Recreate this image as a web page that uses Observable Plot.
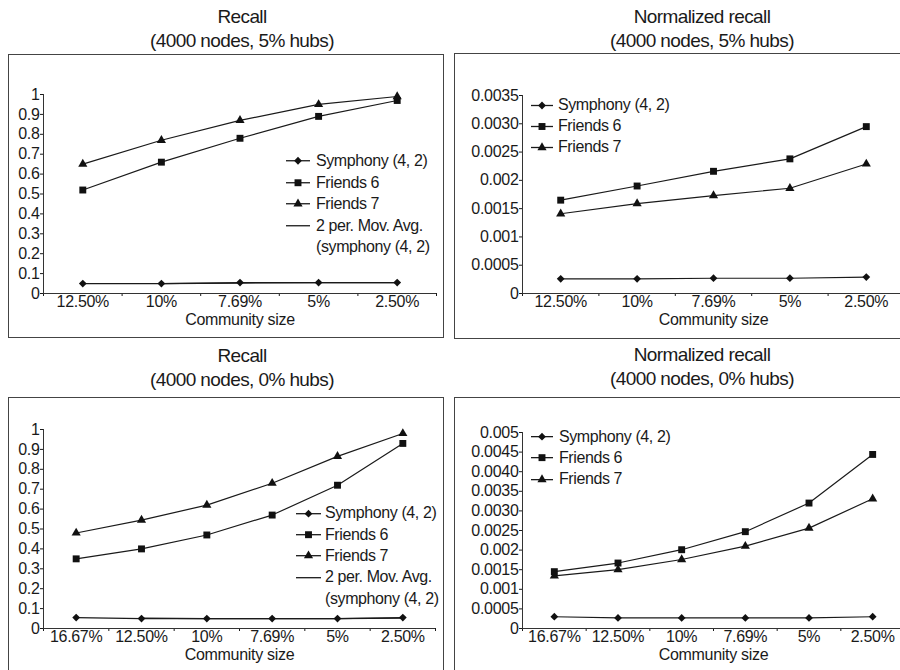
<!DOCTYPE html>
<html><head><meta charset="utf-8">
<script src="https://cdn.jsdelivr.net/npm/d3@7"></script>
<script src="https://cdn.jsdelivr.net/npm/@observablehq/plot@0.6"></script>
<style>
body{margin:0;background:#fff;}
#root{position:relative;width:900px;height:670px;overflow:hidden;font-family:"Liberation Sans",Arial,sans-serif;color:#1a1a1a;background:#fff;}
.title{position:absolute;width:400px;text-align:center;font-size:19px;line-height:24px;letter-spacing:-0.6px;}
.box{position:absolute;border:1px solid #444;box-sizing:border-box;background:#fff;}
.box .plotwrap{position:absolute;left:0;top:0;}
.legend{position:absolute;font-size:16px;letter-spacing:-0.4px;}
.legend .row{display:flex;align-items:center;white-space:nowrap;}
.legend svg{flex:none;}
</style>
</head><body><div id="root"></div>
<script>
// ---- data ----
const cats5 = ["12.50%", "10%", "7.69%", "5%", "2.50%"];
const cats6 = ["16.67%", "12.50%", "10%", "7.69%", "5%", "2.50%"];

const recall5Symphony = [0.05, 0.05, 0.055, 0.055, 0.055];
const recall5Friends6 = [0.52, 0.66, 0.78, 0.89, 0.97];
const recall5Friends7 = [0.65, 0.77, 0.87, 0.95, 0.99];
const recall5MovAvg   = [null, 0.05, 0.0525, 0.055, 0.055];

const norm5Symphony = [0.00026, 0.00026, 0.00027, 0.00027, 0.00029];
const norm5Friends6 = [0.00165, 0.0019, 0.00216, 0.00238, 0.00295];
const norm5Friends7 = [0.00141, 0.00159, 0.00173, 0.00186, 0.00229];

const recall0Symphony = [0.055, 0.05, 0.05, 0.05, 0.05, 0.055];
const recall0Friends6 = [0.35, 0.40, 0.47, 0.57, 0.72, 0.93];
const recall0Friends7 = [0.48, 0.545, 0.62, 0.73, 0.865, 0.98];
const recall0MovAvg   = [null, 0.0525, 0.05, 0.05, 0.05, 0.0525];

const norm0Symphony = [0.0003, 0.00027, 0.00027, 0.00027, 0.00027, 0.0003];
const norm0Friends6 = [0.00145, 0.00167, 0.00201, 0.00247, 0.0032, 0.00444];
const norm0Friends7 = [0.00134, 0.0015, 0.00176, 0.0021, 0.00256, 0.00331];

const recallTicks  = [0, 0.1, 0.2, 0.3, 0.4, 0.5, 0.6, 0.7, 0.8, 0.9, 1];
const recallLabels = ["0", "0.1", "0.2", "0.3", "0.4", "0.5", "0.6", "0.7", "0.8", "0.9", "1"];
const norm5Ticks  = [0, 0.0005, 0.001, 0.0015, 0.002, 0.0025, 0.003, 0.0035];
const norm5Labels = ["0", "0.0005", "0.001", "0.0015", "0.002", "0.0025", "0.0030", "0.0035"];
const norm0Ticks  = [0, 0.0005, 0.001, 0.0015, 0.002, 0.0025, 0.003, 0.0035, 0.004, 0.0045, 0.005];
const norm0Labels = ["0", "0.0005", "0.001", "0.0015", "0.002", "0.0025", "0.0030", "0.0035", "0.0040", "0.0045", "0.005"];

const seriesNames = ["Symphony (4, 2)", "Friends 6", "Friends 7"];
const movAvgName = ["2 per. Mov. Avg.", "(symphony (4, 2)"];
const xTitle = "Community size";

// ---- styling ----
const INK = "#1a1a1a";
const SYM = {
  "Symphony (4, 2)": {symbol: "diamond2", r: 3.5},
  "Friends 6": {symbol: "square", r: 3.9},
  "Friends 7": {symbol: "triangle", r: 3.4}
};
const d3Sym = {diamond2: d3.symbolDiamond2, square: d3.symbolSquare, triangle: d3.symbolTriangle};

const root = document.getElementById("root");

function addTitle(lines, left, top) {
  const t = document.createElement("div");
  t.className = "title";
  t.style.left = left + "px"; t.style.top = top + "px";
  t.innerHTML = lines.map(l => `<div>${l}</div>`).join("");
  root.appendChild(t);
}

function makePanel(cfg) {
  const box = document.createElement("div");
  box.className = "box";
  Object.assign(box.style, {left: cfg.box[0] + "px", top: cfg.box[1] + "px", width: cfg.box[2] + "px", height: cfg.box[3] + "px"});
  root.appendChild(box);

  const n = cfg.cats.length;
  const marks = [
    Plot.ruleX([0], {stroke: "#333", strokeWidth: 1}),
    Plot.ruleY([0], {stroke: "#333", strokeWidth: 1}),
    Plot.text(cfg.cats, {x: (d, i) => i + 0.5, frameAnchor: "bottom", dy: 13, text: d => d, fill: INK, fontSize: 16}),
    Plot.text([xTitle], {frameAnchor: "bottom", dy: 31, text: d => d, fill: INK, fontSize: 16})
  ];
  if (cfg.movAvg) {
    const ma = cfg.movAvg.map((v, i) => ({x: i + 0.5, y: v})).filter(d => d.y != null);
    marks.push(Plot.line(ma, {x: "x", y: "y", stroke: INK, strokeWidth: 1.3}));
  }
  cfg.series.forEach((vals, k) => {
    const name = seriesNames[k];
    const data = vals.map((v, i) => ({x: i + 0.5, y: v}));
    marks.push(Plot.line(data, {x: "x", y: "y", stroke: INK, strokeWidth: 1.2}));
    marks.push(Plot.dot(data, {x: "x", y: "y", symbol: () => SYM[name].symbol, r: SYM[name].r, fill: "#111", stroke: "none"}));
  });

  const plot = Plot.plot({
    width: cfg.size[0], height: cfg.size[1],
    marginLeft: cfg.m[0], marginRight: cfg.m[1], marginTop: cfg.m[2], marginBottom: cfg.m[3],
    style: {fontFamily: '"Liberation Sans", Arial, sans-serif', fontSize: "16px", letterSpacing: "-0.3px", color: INK, background: "transparent", overflow: "visible"},
    x: {domain: [0, n], ticks: d3.range(n + 1), tickFormat: () => "", tickSize: 3, label: null},
    y: {domain: cfg.yDomain, ticks: cfg.yTicks, tickFormat: d => cfg.yLabels[cfg.yTicks.findIndex(t => Math.abs(t - d) < 1e-12)], tickSize: 3, tickPadding: 1, label: null},
    symbol: {type: "identity"},
    marks
  });
  const wrap = document.createElement("div");
  wrap.className = "plotwrap";
  wrap.appendChild(plot);
  box.appendChild(wrap);

  // legend
  const lg = document.createElement("div");
  lg.className = "legend";
  lg.style.left = cfg.legend.left + "px"; lg.style.top = cfg.legend.top + "px";
  const L = cfg.legend;
  const rows = seriesNames.map(name => ({name, sym: SYM[name]}));
  if (cfg.movAvg) { rows.push({name: movAvgName[0], line: true}); rows.push({name: movAvgName[1], blank: true}); }
  rows.forEach(r => {
    const row = document.createElement("div");
    row.className = "row";
    row.style.height = L.rowH + "px";
    const svg = d3.create("svg").attr("width", L.lineW).attr("height", L.rowH).style("margin-right", L.gap + "px");
    if (!r.blank) {
      svg.append("line").attr("x1", 0).attr("x2", L.lineW).attr("y1", L.rowH / 2).attr("y2", L.rowH / 2).attr("stroke", INK).attr("stroke-width", 1.3);
      if (r.sym) {
        svg.append("path").attr("d", d3.symbol(d3Sym[r.sym.symbol], Math.PI * r.sym.r * r.sym.r)())
          .attr("transform", `translate(${L.lineW / 2},${L.rowH / 2})`).attr("fill", "#111");
      }
    }
    row.appendChild(svg.node());
    const span = document.createElement("span");
    span.textContent = r.name;
    row.appendChild(span);
    lg.appendChild(row);
  });
  box.appendChild(lg);
}

addTitle(["Recall", "(4000 nodes, 5% hubs)"], 42, 5);
addTitle(["Normalized recall", "(4000 nodes, 5% hubs)"], 502, 5);
addTitle(["Recall", "(4000 nodes, 0% hubs)"], 42, 344);
addTitle(["Normalized recall", "(4000 nodes, 0% hubs)"], 502, 343);

makePanel({
  box: [8, 54, 436, 284], size: [433, 282], m: [34, 6, 39, 44],
  cats: cats5, series: [recall5Symphony, recall5Friends6, recall5Friends7], movAvg: recall5MovAvg,
  yDomain: [0, 1], yTicks: recallTicks, yLabels: recallLabels,
  legend: {left: 277, top: 95.25, lineW: 24, gap: 6, rowH: 21.5}
});
makePanel({
  box: [454, 53, 460, 286], size: [450, 282], m: [67, 1, 41, 43],
  cats: cats5, series: [norm5Symphony, norm5Friends6, norm5Friends7],
  yDomain: [0, 0.0035], yTicks: norm5Ticks, yLabels: norm5Labels,
  legend: {left: 76, top: 40.5, lineW: 22, gap: 5, rowH: 21}
});
makePanel({
  box: [8, 397, 436, 300], size: [433, 272], m: [34, 7, 31, 42],
  cats: cats6, series: [recall0Symphony, recall0Friends6, recall0Friends7], movAvg: recall0MovAvg,
  yDomain: [0, 1], yTicks: recallTicks, yLabels: recallLabels,
  legend: {left: 287, top: 104.6, lineW: 25, gap: 4, rowH: 21.4}
});
makePanel({
  box: [454, 397, 460, 300], size: [450, 272], m: [67, 1, 34, 42],
  cats: cats6, series: [norm0Symphony, norm0Friends6, norm0Friends7],
  yDomain: [0, 0.005], yTicks: norm0Ticks, yLabels: norm0Labels,
  legend: {left: 76, top: 28.2, lineW: 22, gap: 6, rowH: 21.3}
});
</script>
</body></html>
